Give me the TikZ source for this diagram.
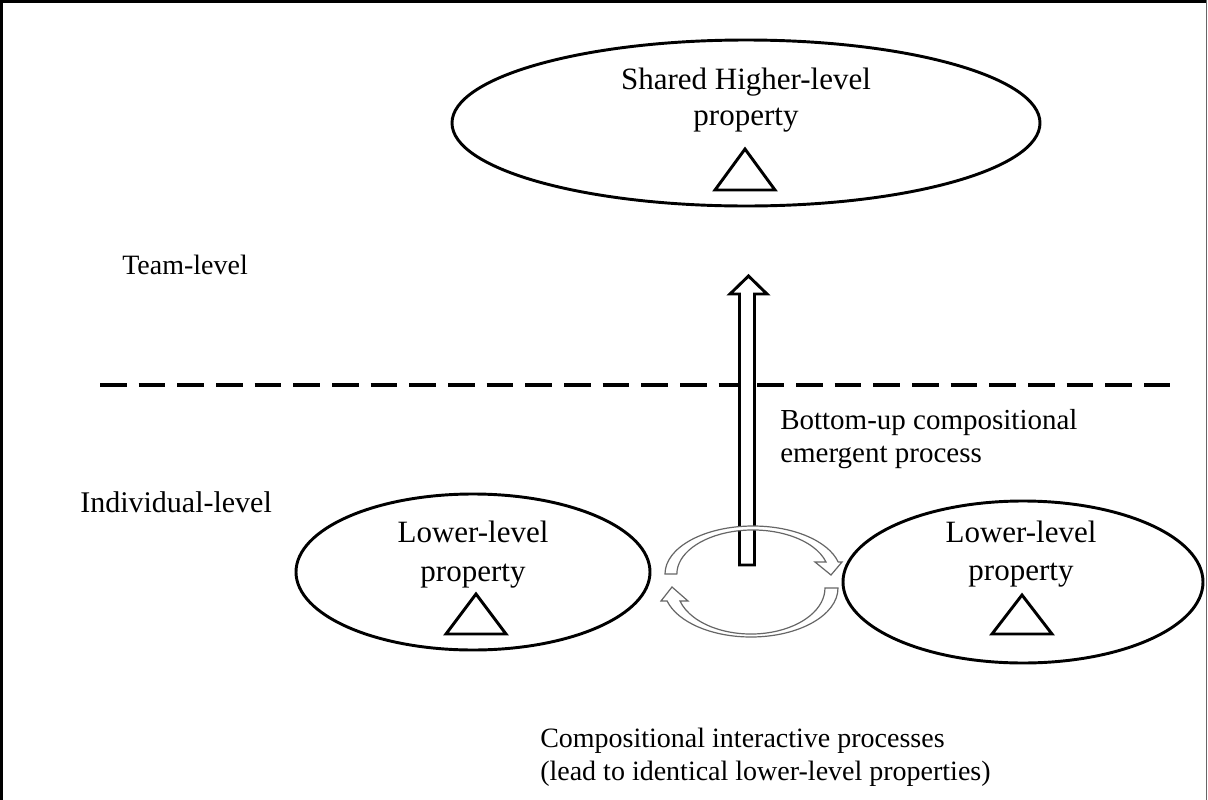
\documentclass[tikz,border=0pt]{standalone}
\usepackage{fontspec}
\setmainfont{Liberation Serif}
\usetikzlibrary{shapes.geometric}
\begin{document}
\begin{tikzpicture}[x=0.75pt,y=-0.75pt,
  bubble/.style={ellipse, draw, line width=2.2pt, inner sep=0pt},
  tri/.style={draw, line width=2.2pt},
  proptext/.style={font=\fontsize{23.25}{27.75}\selectfont, inner sep=0pt, anchor=base},
  lvltext/.style={font=\fontsize{21}{24.75}\selectfont, inner sep=0pt, anchor=base west},
  blockarrow/.style={draw, line width=2.2pt, fill=white, line join=miter},
  cyclearrow/.style={draw=black!60, line width=0.9pt, fill=white, line join=miter},
  levelline/.style={line width=3pt, dash pattern=on 20pt off 9pt},
]
\useasboundingbox (0,0) rectangle (1208,800);
\fill[white] (0,0) rectangle (1208,800);

% frame
\draw[line width=2.4pt] (1.6,800) -- (1.6,1.6) -- (1207,1.6);
\draw[black!60, line width=1pt] (1206.5,0) -- (1206.5,800);

% level separator
\coordinate (sepL) at (100,385);
\coordinate (sepR) at (1170,385);
\draw[levelline] (sepL) -- (sepR);

% level labels
\node[lvltext] (team) at (122,274) {Team-level};
\node[lvltext, font=\fontsize{22.5}{26}\selectfont] (indiv) at (80,512) {Individual-level};

% higher-level property
\node[bubble, minimum width=441pt, minimum height=124.5pt] (high) at (746,123) {};
\node[proptext] (high1) at (746,89) {Shared Higher-level};
\node[proptext] (high2) at (746,125) {property};
\draw[tri] (745,149) -- (775,190) -- (715,190) -- cycle;

% lower-level properties
\node[bubble, minimum width=265.5pt, minimum height=117pt] (lowA) at (473,572) {};
\node[proptext] (lowA1) at (473,542) {Lower-level};
\node[proptext] (lowA2) at (473,581) {property};
\draw[tri] (476,594) -- (506,634) -- (446,634) -- cycle;

\node[bubble, minimum width=270pt, minimum height=121.5pt] (lowB) at (1023,582) {};
\node[proptext] (lowB1) at (1021,542) {Lower-level};
\node[proptext] (lowB2) at (1021,580) {property};
\draw[tri] (1022,595) -- (1052,634) -- (992,634) -- cycle;

% bottom-up emergence arrow
\draw[blockarrow] (739.5,565) -- (739.5,294) -- (730,294) -- (748.5,276)
  -- (767,294) -- (754.5,294) -- (754.5,565) -- cycle;
\node[lvltext, font=\fontsize{21.75}{25.5}\selectfont] (bu1) at (780,429) {Bottom-up compositional};
\node[lvltext, font=\fontsize{21.75}{25.5}\selectfont] (bu2) at (780,462) {emergent process};

% interaction cycle between the lower-level properties
\draw[cyclearrow] (665,574) arc[start angle=180, end angle=345.5, x radius=88, y radius=48]
  -- (842,562) -- (831,575) -- (815,562) -- (826,562)
  arc[start angle=344.2, end angle=180, x radius=76, y radius=44] -- cycle;
\draw[cyclearrow] (838,588) arc[start angle=0, end angle=164.6, x radius=87, y radius=49]
  -- (661,601) -- (672,587) -- (688,601) -- (680,601)
  arc[start angle=163.6, end angle=0, x radius=74, y radius=46] -- cycle;

\node[lvltext] (ci1) at (540,747) {Compositional interactive processes};
\node[lvltext] (ci2) at (540,780) {(lead to identical lower-level properties)};
\end{tikzpicture}
\end{document}
